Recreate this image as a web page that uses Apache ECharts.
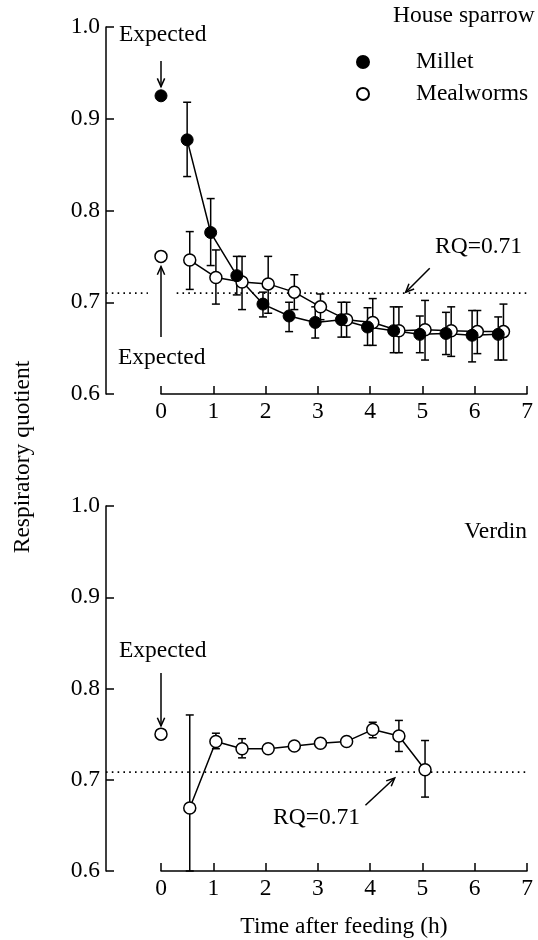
<!DOCTYPE html>
<html>
<head>
<meta charset="utf-8" />
<title>Respiratory quotient after feeding</title>
<style>
  html, body { margin: 0; padding: 0; background: #fff; }
  #chart { width: 538px; height: 940px; }
</style>
</head>
<body>
<div id="chart"></div>
<script src="https://cdn.jsdelivr.net/npm/echarts@6/dist/echarts.min.js"></script>
<script>
// ---- data ----
const rqLine = 0.71;
const expectedX = 0;

// house sparrow, expected values at t=0: [millet, mealworms]
const sparrowExpected = [0.925, 0.75];

const milletX  = [0.5, 0.95, 1.45, 1.95, 2.45, 2.95, 3.45, 3.95, 4.45, 4.95, 5.45, 5.95, 6.45];
const milletRQ = [0.877, 0.776, 0.729, 0.698, 0.685, 0.678, 0.681, 0.673, 0.669, 0.665, 0.666, 0.664, 0.665];
const milletHi = [0.918, 0.813, 0.750, 0.711, 0.700, 0.695, 0.700, 0.694, 0.695, 0.685, 0.689, 0.691, 0.684];
const milletLo = [0.837, 0.740, 0.708, 0.684, 0.668, 0.661, 0.662, 0.653, 0.645, 0.645, 0.643, 0.635, 0.637];

const mealwormsX  = [0.55, 1.05, 1.55, 2.05, 2.55, 3.05, 3.55, 4.05, 4.55, 5.05, 5.55, 6.05, 6.55];
const mealwormsRQ = [0.746, 0.727, 0.722, 0.720, 0.711, 0.695, 0.681, 0.678, 0.669, 0.670, 0.669, 0.668, 0.668];
const mealwormsHi = [0.777, 0.757, 0.750, 0.750, 0.730, 0.709, 0.700, 0.704, 0.695, 0.702, 0.695, 0.691, 0.698];
const mealwormsLo = [0.714, 0.698, 0.692, 0.688, 0.692, 0.681, 0.662, 0.653, 0.645, 0.637, 0.641, 0.644, 0.637];

// verdin
const verdinExpected = 0.75;
const verdinX  = [0.55, 1.05, 1.55, 2.05, 2.55, 3.05, 3.55, 4.05, 4.55, 5.05];
const verdinRQ = [0.669, 0.742, 0.734, 0.734, 0.737, 0.740, 0.742, 0.755, 0.748, 0.711];
const verdinHi = [0.771, 0.751, 0.745, null, null, null, null, 0.763, 0.765, 0.743];
const verdinLo = [0.600, 0.734, 0.724, null, null, null, null, 0.746, 0.731, 0.681];

const xTicks = [0, 7];
const yTicks = [0.6, 1.0];

// annotation arrows [x0, y0, x1, y1] in data units
const sparrowArrows = [[0, 0.963, 0, 0.935], [0, 0.662, 0, 0.739], [5.14, 0.737, 4.68, 0.711]];
const verdinArrows = [[0, 0.817, 0, 0.759], [3.91, 0.672, 4.47, 0.702]];

// ---- layout ----
const font = 'Liberation Serif';
const fs = 23.5;
const plotLeft = 161, plotWidth = 366, plotHeight = 367;
const panelTops = [27, 506];
const yAxisGap = 55;
const leftEdgeX = -yAxisGap / (plotWidth / (xTicks[1] - xTicks[0]));

const chart = echarts.init(document.getElementById('chart'));

function pairs(xs, ys) {
  return xs.map(function (x, i) { return [x, ys[i]]; });
}
function bars(xs, lo, hi) {
  return xs.map(function (x, i) { return [x, lo[i], hi[i]]; })
    .filter(function (d) { return d[1] != null && d[2] != null; });
}

function renderErrorBar(params, api) {
  const x = api.value(0);
  const top = api.coord([x, api.value(2)]);
  const bot = api.coord([x, api.value(1)]);
  const cap = 4;
  const st = { stroke: '#000', lineWidth: 1.5 };
  return {
    type: 'group',
    children: [
      { type: 'line', shape: { x1: top[0], y1: top[1], x2: bot[0], y2: bot[1] }, style: st },
      { type: 'line', shape: { x1: top[0] - cap, y1: top[1], x2: top[0] + cap, y2: top[1] }, style: st },
      { type: 'line', shape: { x1: bot[0] - cap, y1: bot[1], x2: bot[0] + cap, y2: bot[1] }, style: st }
    ]
  };
}

function renderArrow(params, api) {
  const a = api.coord([api.value(0), api.value(1)]);
  const b = api.coord([api.value(2), api.value(3)]);
  const ang = Math.atan2(b[1] - a[1], b[0] - a[0]);
  const head = 9, spread = 0.42;
  const p1 = [b[0] - head * Math.cos(ang - spread), b[1] - head * Math.sin(ang - spread)];
  const p2 = [b[0] - head * Math.cos(ang + spread), b[1] - head * Math.sin(ang + spread)];
  const st = { stroke: '#000', lineWidth: 1.5, fill: null };
  return {
    type: 'group',
    children: [
      { type: 'line', shape: { x1: a[0], y1: a[1], x2: b[0], y2: b[1] }, style: st },
      { type: 'polyline', shape: { points: [p1, b, p2] }, style: st }
    ]
  };
}

function xAxisOpt(idx, name) {
  return {
    gridIndex: idx, type: 'value', min: xTicks[0], max: xTicks[1], interval: 1,
    axisLine: { show: true, onZero: false, lineStyle: { color: '#000', width: 1.5 } },
    axisTick: { show: true, inside: true, length: 8, lineStyle: { color: '#000', width: 1.5 } },
    axisLabel: { color: '#000', fontFamily: font, fontSize: fs, margin: 6 },
    splitLine: { show: false },
    name: name, nameLocation: 'middle', nameGap: 44,
    nameTextStyle: { color: '#000', fontFamily: font, fontSize: fs }
  };
}
function yAxisOpt(idx) {
  return {
    gridIndex: idx, type: 'value', min: yTicks[0], max: yTicks[1], interval: 0.1, offset: yAxisGap,
    axisLine: { show: true, onZero: false, lineStyle: { color: '#000', width: 1.5 } },
    axisTick: { show: true, inside: true, length: 8, lineStyle: { color: '#000', width: 1.5 } },
    axisLabel: { color: '#000', fontFamily: font, fontSize: fs, margin: 6,
      formatter: function (v) { return v.toFixed(1); } },
    splitLine: { show: false }
  };
}

// wide hidden axes reaching the y axis line, used only for the RQ reference line
function wideXAxis(idx) {
  return { gridIndex: idx, type: 'value', min: leftEdgeX, max: xTicks[1], show: false };
}
function wideYAxis(idx) {
  return { gridIndex: idx, type: 'value', min: yTicks[0], max: yTicks[1], show: false };
}

const lineBase = {
  type: 'line', symbol: 'circle', symbolSize: 12, showSymbol: true,
  lineStyle: { color: '#000', width: 1.5 }, z: 3
};
const openStyle = { color: '#fff', borderColor: '#000', borderWidth: 1.5, opacity: 1 };
const filledStyle = { color: '#000', borderColor: '#000', borderWidth: 1, opacity: 1 };
const dotted = { color: '#000', width: 1.6, type: [1.6, 4.2] };

function dottedSeries(idx, x0, x1) {
  return {
    type: 'line', xAxisIndex: idx, yAxisIndex: idx, silent: true,
    symbol: 'none', lineStyle: dotted, z: 1, data: [[x0, rqLine], [x1, rqLine]]
  };
}
function errorSeries(idx, data) {
  return {
    type: 'custom', xAxisIndex: idx, yAxisIndex: idx, renderItem: renderErrorBar,
    encode: { x: 0, y: [1, 2] }, data: data, z: 2, silent: true
  };
}
function arrowSeries(idx, data) {
  return {
    type: 'custom', xAxisIndex: idx, yAxisIndex: idx, renderItem: renderArrow,
    encode: { x: [0, 2], y: [1, 3] }, data: data, z: 4, silent: true
  };
}

function label(text, x, y, align) {
  return {
    type: 'text', x: x, y: y,
    style: { text: text, fill: '#000', fontFamily: font, fontSize: fs, align: align || 'left', verticalAlign: 'middle' }
  };
}

const option = {
  animation: false,
  backgroundColor: '#fff',
  grid: panelTops.map(function (t) {
    return { left: plotLeft, top: t, width: plotWidth, height: plotHeight };
  }).concat(panelTops.map(function (t) {
    return { left: plotLeft - yAxisGap, top: t, width: plotWidth + yAxisGap, height: plotHeight };
  })),
  xAxis: [xAxisOpt(0, ''), xAxisOpt(1, 'Time after feeding (h)'), wideXAxis(2), wideXAxis(3)],
  yAxis: [yAxisOpt(0), yAxisOpt(1), wideYAxis(2), wideYAxis(3)],
  legend: {
    data: ['Millet', 'Mealworms'], orient: 'vertical', left: 351, top: 45,
    icon: 'circle', itemWidth: 12, itemHeight: 12, itemGap: 8, selectedMode: false,
    textStyle: { color: '#000', fontFamily: font, fontSize: fs, lineHeight: 24, padding: [0, 0, 0, 42] }
  },
  graphic: [
    label('House sparrow', 393, 16),
    label('Expected', 119, 35),
    label('Expected', 118, 358),
    label('RQ=0.71', 435, 247),
    label('Verdin', 527, 532, 'right'),
    label('Expected', 119, 651),
    label('RQ=0.71', 273, 818),
    {
      type: 'text', x: 23, y: 457, rotation: Math.PI / 2,
      style: { text: 'Respiratory quotient', fill: '#000', fontFamily: font, fontSize: fs,
        align: 'center', verticalAlign: 'middle' }
    }
  ],
  series: [
    // house sparrow
    dottedSeries(2, leftEdgeX, -0.25),
    dottedSeries(2, 0.3, xTicks[1]),
    errorSeries(0, bars(mealwormsX, mealwormsLo, mealwormsHi)),
    errorSeries(0, bars(milletX, milletLo, milletHi)),
    Object.assign({}, lineBase, { name: 'Mealworms', xAxisIndex: 0, yAxisIndex: 0,
      itemStyle: openStyle, data: pairs(mealwormsX, mealwormsRQ) }),
    Object.assign({}, lineBase, { name: 'Millet', xAxisIndex: 0, yAxisIndex: 0,
      itemStyle: filledStyle, data: pairs(milletX, milletRQ) }),
    { type: 'scatter', name: 'Millet expected', xAxisIndex: 0, yAxisIndex: 0, symbolSize: 12,
      itemStyle: filledStyle, z: 3, data: [[expectedX, sparrowExpected[0]]] },
    { type: 'scatter', name: 'Mealworms expected', xAxisIndex: 0, yAxisIndex: 0, symbolSize: 12,
      itemStyle: openStyle, z: 3, data: [[expectedX, sparrowExpected[1]]] },
    arrowSeries(0, sparrowArrows),
    // verdin
    dottedSeries(3, leftEdgeX, xTicks[1]),
    errorSeries(1, bars(verdinX, verdinLo, verdinHi)),
    Object.assign({}, lineBase, { name: 'Verdin', xAxisIndex: 1, yAxisIndex: 1,
      itemStyle: openStyle, data: pairs(verdinX, verdinRQ) }),
    { type: 'scatter', name: 'Verdin expected', xAxisIndex: 1, yAxisIndex: 1, symbolSize: 12,
      itemStyle: openStyle, z: 3, data: [[expectedX, verdinExpected]] },
    arrowSeries(1, verdinArrows)
  ]
};

chart.setOption(option);
window.onresize = function () { chart.resize(); };
</script>
</body>
</html>
